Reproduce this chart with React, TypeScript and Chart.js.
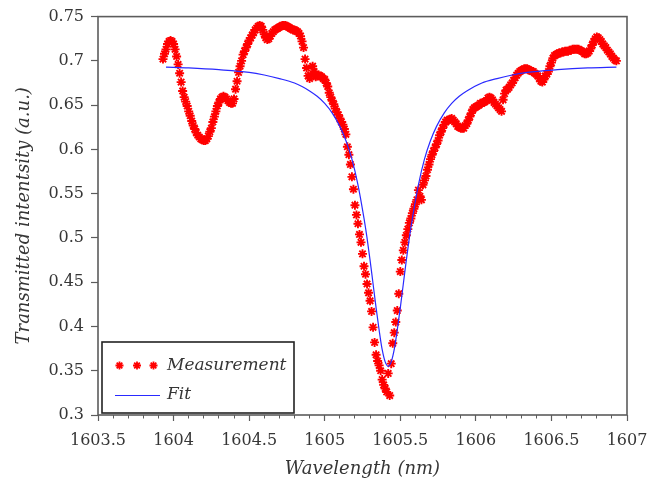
import React, { useEffect, useRef } from "react";
import { Chart, registerables } from "chart.js";

Chart.register(...registerables);

// ---------- data ----------
const WAVELENGTH = [
  1603.93, 1603.94, 1603.95, 1603.96, 1603.97, 1603.98, 1603.99, 1604.0, 1604.01, 1604.02,
  1604.03, 1604.04, 1604.05, 1604.06, 1604.07, 1604.08, 1604.09, 1604.1, 1604.11, 1604.12,
  1604.13, 1604.14, 1604.15, 1604.16, 1604.17, 1604.18, 1604.19, 1604.2, 1604.21, 1604.22,
  1604.23, 1604.24, 1604.25, 1604.26, 1604.27, 1604.28, 1604.29, 1604.3, 1604.31, 1604.32,
  1604.33, 1604.34, 1604.35, 1604.36, 1604.37, 1604.38, 1604.39, 1604.4, 1604.41, 1604.42,
  1604.43, 1604.44, 1604.45, 1604.46, 1604.47, 1604.48, 1604.49, 1604.5, 1604.51, 1604.52,
  1604.53, 1604.54, 1604.55, 1604.56, 1604.57, 1604.58, 1604.59, 1604.6, 1604.61, 1604.62,
  1604.63, 1604.64, 1604.65, 1604.66, 1604.67, 1604.68, 1604.69, 1604.7, 1604.71, 1604.72,
  1604.73, 1604.74, 1604.75, 1604.76, 1604.77, 1604.78, 1604.79, 1604.8, 1604.81, 1604.82,
  1604.83, 1604.84, 1604.85, 1604.86, 1604.87, 1604.88, 1604.89, 1604.9, 1604.91, 1604.92,
  1604.93, 1604.94, 1604.95, 1604.96, 1604.97, 1604.98, 1604.99, 1605.0, 1605.01, 1605.02,
  1605.03, 1605.04, 1605.05, 1605.06, 1605.07, 1605.08, 1605.09, 1605.1, 1605.11, 1605.12,
  1605.13, 1605.14, 1605.15, 1605.16, 1605.17, 1605.18, 1605.19, 1605.2, 1605.21, 1605.22,
  1605.23, 1605.24, 1605.25, 1605.26, 1605.27, 1605.28, 1605.29, 1605.3, 1605.31, 1605.32,
  1605.33, 1605.34, 1605.35, 1605.36, 1605.37, 1605.38, 1605.39, 1605.4, 1605.41, 1605.42,
  1605.43, 1605.44, 1605.45, 1605.46, 1605.47, 1605.48, 1605.49, 1605.5, 1605.51, 1605.52,
  1605.53, 1605.54, 1605.55, 1605.56, 1605.57, 1605.58, 1605.59, 1605.6, 1605.61, 1605.62,
  1605.63, 1605.64, 1605.65, 1605.66, 1605.67, 1605.68, 1605.69, 1605.7, 1605.71, 1605.72,
  1605.73, 1605.74, 1605.75, 1605.76, 1605.77, 1605.78, 1605.79, 1605.8, 1605.81, 1605.82,
  1605.83, 1605.84, 1605.85, 1605.86, 1605.87, 1605.88, 1605.89, 1605.9, 1605.91, 1605.92,
  1605.93, 1605.94, 1605.95, 1605.96, 1605.97, 1605.98, 1605.99, 1606.0, 1606.01, 1606.02,
  1606.03, 1606.04, 1606.05, 1606.06, 1606.07, 1606.08, 1606.09, 1606.1, 1606.11, 1606.12,
  1606.13, 1606.14, 1606.15, 1606.16, 1606.17, 1606.18, 1606.19, 1606.2, 1606.21, 1606.22,
  1606.23, 1606.24, 1606.25, 1606.26, 1606.27, 1606.28, 1606.29, 1606.3, 1606.31, 1606.32,
  1606.33, 1606.34, 1606.35, 1606.36, 1606.37, 1606.38, 1606.39, 1606.4, 1606.41, 1606.42,
  1606.43, 1606.44, 1606.45, 1606.46, 1606.47, 1606.48, 1606.49, 1606.5, 1606.51, 1606.52,
  1606.53, 1606.54, 1606.55, 1606.56, 1606.57, 1606.58, 1606.59, 1606.6, 1606.61, 1606.62,
  1606.63, 1606.64, 1606.65, 1606.66, 1606.67, 1606.68, 1606.69, 1606.7, 1606.71, 1606.72,
  1606.73, 1606.74, 1606.75, 1606.76, 1606.77, 1606.78, 1606.79, 1606.8, 1606.81, 1606.82,
  1606.83, 1606.84, 1606.85, 1606.86, 1606.87, 1606.88, 1606.89, 1606.9, 1606.91, 1606.92,
  1606.93,
];

const MEASUREMENT = [
  0.702, 0.708, 0.713, 0.719, 0.722, 0.723, 0.722, 0.719, 0.713, 0.705,
  0.696, 0.686, 0.676, 0.666, 0.659, 0.654, 0.649, 0.643, 0.638, 0.632,
  0.627, 0.623, 0.619, 0.616, 0.614, 0.612, 0.611, 0.61, 0.61, 0.612,
  0.615, 0.62, 0.624, 0.631, 0.637, 0.643, 0.649, 0.653, 0.657, 0.659,
  0.66, 0.659, 0.657, 0.655, 0.653, 0.652, 0.652, 0.657, 0.668, 0.677,
  0.687, 0.694, 0.7, 0.707, 0.711, 0.715, 0.719, 0.723, 0.726, 0.729,
  0.732, 0.735, 0.737, 0.739, 0.74, 0.739, 0.735, 0.73, 0.726, 0.724,
  0.725, 0.728, 0.731, 0.733, 0.735, 0.736, 0.737, 0.738, 0.739, 0.74,
  0.74, 0.74, 0.739, 0.738, 0.737, 0.736, 0.735, 0.735, 0.734, 0.733,
  0.731, 0.728, 0.722, 0.715, 0.702, 0.692, 0.683, 0.68, 0.684, 0.694,
  0.688, 0.682, 0.683, 0.684, 0.683, 0.682, 0.68, 0.679, 0.675, 0.671,
  0.664, 0.659, 0.655, 0.651, 0.646, 0.642, 0.639, 0.635, 0.631, 0.628,
  0.623, 0.617, 0.603, 0.594, 0.583, 0.569, 0.555, 0.537, 0.526, 0.516,
  0.504, 0.495, 0.482, 0.468, 0.459, 0.448, 0.438, 0.429, 0.417, 0.399,
  0.382, 0.368, 0.361, 0.356, 0.35, 0.34, 0.334, 0.33, 0.326, 0.347,
  0.322, 0.358, 0.381, 0.393, 0.405, 0.418, 0.437, 0.462, 0.475, 0.486,
  0.495, 0.503, 0.51, 0.517, 0.522, 0.528, 0.533, 0.538, 0.543, 0.554,
  0.547, 0.543, 0.56, 0.565, 0.57, 0.577, 0.583, 0.589, 0.594, 0.598,
  0.602, 0.606, 0.61, 0.616, 0.62, 0.624, 0.628, 0.631, 0.633, 0.633,
  0.634, 0.635, 0.633, 0.631, 0.629, 0.626, 0.625, 0.624, 0.624, 0.624,
  0.627, 0.629, 0.633, 0.637, 0.641, 0.645, 0.647, 0.648, 0.649, 0.65,
  0.652, 0.652, 0.653, 0.654, 0.655, 0.658, 0.659, 0.658, 0.656, 0.653,
  0.651, 0.649, 0.647, 0.645, 0.643, 0.656, 0.663, 0.667, 0.668, 0.67,
  0.673, 0.675, 0.678, 0.681, 0.684, 0.686, 0.688, 0.689, 0.69, 0.691,
  0.691, 0.691, 0.69, 0.689, 0.688, 0.688, 0.686, 0.685, 0.683, 0.68,
  0.677, 0.676, 0.679, 0.683, 0.685, 0.688, 0.694, 0.698, 0.703, 0.706,
  0.707, 0.708, 0.709, 0.709, 0.71, 0.71, 0.711, 0.711, 0.711, 0.712,
  0.712, 0.713, 0.713, 0.713, 0.713, 0.713, 0.712, 0.711, 0.71, 0.708,
  0.708, 0.709, 0.711, 0.714, 0.718, 0.722, 0.725, 0.727, 0.726, 0.724,
  0.722, 0.719, 0.717, 0.715, 0.712, 0.71, 0.708, 0.705, 0.703, 0.701,
  0.7,
];

const FIT_X = [
  1603.95, 1604.1, 1604.3, 1604.5, 1604.6, 1604.7, 1604.8, 1604.85, 1604.9, 1604.95,
  1605.0, 1605.05, 1605.1, 1605.14, 1605.18, 1605.22, 1605.26, 1605.28, 1605.3, 1605.32,
  1605.34, 1605.36, 1605.38, 1605.4, 1605.42, 1605.44, 1605.46, 1605.48, 1605.5, 1605.52,
  1605.54, 1605.56, 1605.58, 1605.62, 1605.66, 1605.7, 1605.74, 1605.79, 1605.84, 1605.89,
  1605.94, 1606.04, 1606.14, 1606.24, 1606.34, 1606.54, 1606.74, 1606.93,
];
const FIT_Y = [
  0.693, 0.692, 0.69, 0.687, 0.684, 0.68, 0.675, 0.671, 0.666, 0.66,
  0.652, 0.641, 0.626, 0.61, 0.589, 0.56, 0.522, 0.5, 0.475, 0.448,
  0.421, 0.396, 0.374, 0.36, 0.355, 0.36, 0.374, 0.396, 0.421, 0.448,
  0.475, 0.5, 0.522, 0.56, 0.589, 0.61, 0.626, 0.641, 0.652, 0.66,
  0.666, 0.675, 0.68, 0.684, 0.687, 0.69, 0.692, 0.693,
];

const X_TICKS = [1603.5, 1604, 1604.5, 1605, 1605.5, 1606, 1606.5, 1607];
const X_TICK_LABELS = ["1603.5", "1604", "1604.5", "1605", "1605.5", "1606", "1606.5", "1607"];
const Y_TICKS = [0.3, 0.35, 0.4, 0.45, 0.5, 0.55, 0.6, 0.65, 0.7, 0.75];
const Y_TICK_LABELS = ["0.3", "0.35", "0.4", "0.45", "0.5", "0.55", "0.6", "0.65", "0.7", "0.75"];

const SERIES_NAMES = ["Measurement", "Fit"];
const X_TITLE = "Wavelength (nm)";
const Y_TITLE = "Transmitted intentsity (a.u.)";

// ---------- styles ----------
const FONT = "'DejaVu Serif', serif";
const TEXT = "#363636";
const AXIS = "#5c5c5c";
const RED = "#ff0000";
const BLUE = "#2a2aff";

function drawStar(ctx: CanvasRenderingContext2D, x: number, y: number, r: number) {
  ctx.beginPath();
  for (let k = 0; k < 4; k++) {
    const a = (k * Math.PI) / 4;
    ctx.moveTo(x - Math.cos(a) * r, y - Math.sin(a) * r);
    ctx.lineTo(x + Math.cos(a) * r, y + Math.sin(a) * r);
  }
  ctx.stroke();
}

const framePlugin = {
  id: "frame",
  beforeDatasetsDraw(chart: any) {
    const { ctx, chartArea: a } = chart;
    ctx.save();
    ctx.strokeStyle = AXIS;
    ctx.lineWidth = 1.6;
    ctx.strokeRect(a.left, a.top, a.right - a.left, a.bottom - a.top);
    ctx.restore();
  },
};

const legendPlugin = {
  id: "boxLegend",
  afterDatasetsDraw(chart: any) {
    const { ctx, chartArea: a } = chart;
    const w = 192;
    const h = 71;
    const x0 = a.left + 4;
    const y0 = a.bottom - 2 - h;
    ctx.save();
    ctx.fillStyle = "#ffffff";
    ctx.fillRect(x0, y0, w, h);
    ctx.strokeStyle = "#222222";
    ctx.lineWidth = 1.6;
    ctx.strokeRect(x0, y0, w, h);
    // Measurement entry
    ctx.strokeStyle = RED;
    ctx.lineWidth = 1.8;
    [17.5, 35, 51.5].forEach((dx) => drawStar(ctx, x0 + dx, y0 + 23.5, 4));
    ctx.fillStyle = TEXT;
    ctx.font = `italic 17px ${FONT}`;
    ctx.textBaseline = "middle";
    ctx.textAlign = "left";
    ctx.fillText(SERIES_NAMES[0], x0 + 65, y0 + 23.5);
    // Fit entry
    ctx.strokeStyle = BLUE;
    ctx.lineWidth = 1.2;
    ctx.beginPath();
    ctx.moveTo(x0 + 13, y0 + 53.5);
    ctx.lineTo(x0 + 58, y0 + 53.5);
    ctx.stroke();
    ctx.fillText(SERIES_NAMES[1], x0 + 65, y0 + 52.5);
    ctx.restore();
  },
};

export default function App() {
  const ref = useRef<HTMLCanvasElement | null>(null);

  useEffect(() => {
    if (!ref.current) return;
    const chart = new Chart(ref.current, {
      type: "scatter",
      data: {
        datasets: [
          {
            label: SERIES_NAMES[1],
            data: FIT_X.map((x, i) => ({ x, y: FIT_Y[i] })),
            showLine: true,
            borderColor: BLUE,
            borderWidth: 1.2,
            pointRadius: 0,
            cubicInterpolationMode: "monotone",
            order: 0,
          },
          {
            label: SERIES_NAMES[0],
            data: WAVELENGTH.map((x, i) => ({ x, y: MEASUREMENT[i] })),
            showLine: false,
            pointStyle: "star",
            pointRadius: 4.5,
            pointBorderWidth: 1.9,
            borderColor: RED,
            backgroundColor: RED,
            order: 1,
          },
        ],
      },
      options: {
        animation: false,
        responsive: false,
        layout: { padding: { top: 16, right: 24, bottom: 0, left: 0 } },
        plugins: { legend: { display: false }, tooltip: { enabled: false } },
        scales: {
          xMinor: {
            type: "linear",
            position: "bottom",
            min: 1603.5,
            max: 1607,
            weight: 0,
            afterFit: (s: any) => {
              s.height = 0;
              s.paddingLeft = 0;
              s.paddingRight = 0;
            },
            ticks: { display: false, stepSize: 0.1 },
            grid: { drawOnChartArea: false, drawTicks: true, tickLength: 3.5, tickColor: AXIS, tickWidth: 1 },
            border: { display: false },
          },
          x: {
            type: "linear",
            position: "bottom",
            min: 1603.5,
            max: 1607,
            weight: 1,
            afterBuildTicks: (s: any) => {
              s.ticks = X_TICKS.map((v) => ({ value: v }));
            },
            afterFit: (s: any) => {
              s.height = 66;
              s.paddingLeft = 0;
              s.paddingRight = 0;
            },
            ticks: {
              autoSkip: false,
              maxRotation: 0,
              padding: 10,
              color: TEXT,
              font: { family: FONT, size: 16 },
              callback: (_v: any, i: number) => X_TICK_LABELS[i],
            },
            grid: { drawOnChartArea: false, drawTicks: true, tickLength: 6, tickColor: AXIS, tickWidth: 1.2 },
            border: { display: false },
            title: {
              display: true,
              text: X_TITLE,
              color: TEXT,
              font: { family: FONT, size: 18, style: "italic" },
              padding: { top: 0, bottom: 1 },
            },
          },
          y: {
            type: "linear",
            min: 0.3,
            max: 0.75,
            afterBuildTicks: (s: any) => {
              s.ticks = Y_TICKS.map((v) => ({ value: v }));
            },
            afterFit: (s: any) => {
              s.width = 98;
            },
            ticks: {
              autoSkip: false,
              padding: 7,
              color: TEXT,
              font: { family: FONT, size: 16 },
              callback: (_v: any, i: number) => Y_TICK_LABELS[i],
            },
            grid: { drawOnChartArea: false, drawTicks: true, tickLength: 7, tickColor: AXIS, tickWidth: 1.2 },
            border: { display: false },
            title: {
              display: true,
              text: Y_TITLE,
              color: TEXT,
              font: { family: FONT, size: 18, style: "italic" },
              padding: { top: 14, bottom: 0 },
            },
          },
        },
      },
      plugins: [framePlugin, legendPlugin],
    } as any);
    return () => chart.destroy();
  }, []);

  return (
    <div style={{ position: "fixed", left: 0, top: 0, width: 651, height: 481, background: "#fff" }}>
      <canvas ref={ref} width={651} height={481} style={{ width: 651, height: 481, display: "block" }} />
    </div>
  );
}
